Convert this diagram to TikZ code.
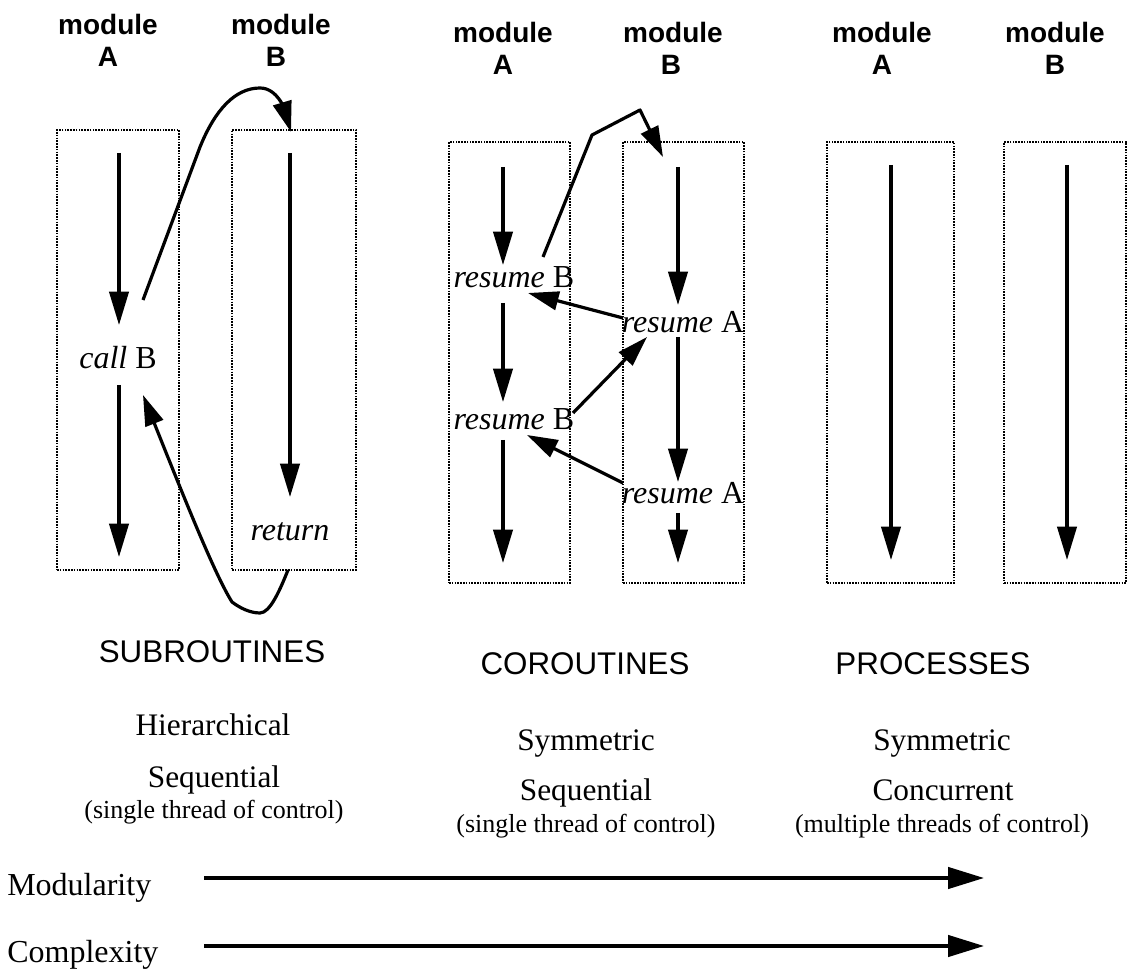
\documentclass[tikz,border=0pt]{standalone}
\usepackage{fontspec}
\setmainfont{Liberation Serif}
\newfontfamily\helv{Liberation Sans}
\usetikzlibrary{arrows.meta}

\begin{document}
\begin{tikzpicture}[x=0.75pt,y=-0.75pt,
  modbox/.style={draw, line width=1.8pt, dash pattern=on 1.2pt off 0.9pt, inner sep=0pt},
  flow/.style={line width=2.3pt, -{Triangle[length=25pt,width=14.5pt]}},
  jump/.style={line width=2.4pt, line join=round, -{Triangle[length=23pt,width=14pt]}},
  axis/.style={line width=2.6pt, -{Triangle[length=27pt,width=16pt]}},
  modlabel/.style={font=\helv\bfseries\fontsize{21pt}{24pt}\selectfont, inner sep=0pt, anchor=base},
  stmt/.style={font=\itshape\fontsize{24pt}{26pt}\selectfont, inner sep=0pt},
  kind/.style={font=\helv\fontsize{23.5pt}{26pt}\selectfont, inner sep=0pt},
  prop/.style={font=\fontsize{23.5pt}{26pt}\selectfont, inner sep=0pt, anchor=base},
  note/.style={font=\fontsize{19.5pt}{22pt}\selectfont, inner sep=0pt, anchor=base},
  axlabel/.style={font=\fontsize{24pt}{26pt}\selectfont, inner sep=0pt, anchor=base west}]

\useasboundingbox (0,0) rectangle (1128,969);

% ---------------- subroutines ----------------
\node[modlabel] (sAm) at (108,35) {module};
\node[modlabel] (sAl) at (108,67) {A};
\node[modlabel] (sBm) at (281,35) {module};
\node[modlabel] (sBl) at (276,67) {B};

\node[modbox, minimum width=91.5pt, minimum height=330pt] (sA) at (118,350) {};
\node[modbox, minimum width=93pt, minimum height=330pt] (sB) at (294,350) {};

\node[stmt] (call) at (118,358) {call \textup{B}};
\node[stmt] (ret) at (290,532) {return};

\coordinate (sA0) at (119,153);
\coordinate (sA1) at (119,325);
\coordinate (sA2) at (119,385);
\coordinate (sA3) at (119,557);
\coordinate (sB0) at (290,153);
\coordinate (sB1) at (290,497);
\draw[flow] (sA0) -- (sA1);
\draw[flow] (sA2) -- (sA3);
\draw[flow] (sB0) -- (sB1);

\coordinate (callout) at (143,300);
\coordinate (callup) at (200,147);
\coordinate (calltop) at (260,88);
\coordinate (callin) at (291,132);
\draw[jump] (callout) -- (callup)
  .. controls (215,110) and (235,88) .. (calltop)
  .. controls (278,88) and (285,112) .. (callin);

\coordinate (retout) at (288,570);
\coordinate (retlow) at (260,613);
\coordinate (retside) at (232,602);
\coordinate (retin) at (143,395);
\draw[jump] (retout) .. controls (280,590) and (270,613) .. (retlow)
  .. controls (250,613) and (240,608) .. (retside)
  .. controls (215,575) and (185,500) .. (retin);

% ---------------- coroutines ----------------
\node[modlabel] (cAm) at (503,43) {module};
\node[modlabel] (cAl) at (503,75) {A};
\node[modlabel] (cBm) at (673,43) {module};
\node[modlabel] (cBl) at (671,75) {B};

\node[modbox, minimum width=90.75pt, minimum height=330.75pt] (cA) at (509.5,362.5) {};
\node[modbox, minimum width=90.75pt, minimum height=330.75pt] (cB) at (683.5,362.5) {};

\node[stmt] (rb1) at (514,277) {resume \textup{B}};
\node[stmt] (rb2) at (514,419) {resume \textup{B}};
\node[stmt] (ra1) at (683,322) {resume \textup{A}};
\node[stmt] (ra2) at (683,493) {resume \textup{A}};

\coordinate (cA0) at (503,167);
\coordinate (cA1) at (503,265);
\coordinate (cA2) at (503,303);
\coordinate (cA3) at (503,402);
\coordinate (cA4) at (503,440);
\coordinate (cA5) at (503,563);
\coordinate (cB0) at (678,167);
\coordinate (cB1) at (678,305);
\coordinate (cB2) at (678,337);
\coordinate (cB3) at (678,482);
\coordinate (cB4) at (678,513);
\coordinate (cB5) at (678,563);
\draw[flow] (cA0) -- (cA1);
\draw[flow] (cA2) -- (cA3);
\draw[flow] (cA4) -- (cA5);
\draw[flow] (cB0) -- (cB1);
\draw[flow] (cB2) -- (cB3);
\draw[flow] (cB4) -- (cB5);

\coordinate (rsOut) at (543,257);
\coordinate (rsK1) at (592,135);
\coordinate (rsK2) at (640,110);
\coordinate (rsIn) at (663,157);
\draw[jump] (rsOut) -- (rsK1) -- (rsK2) -- (rsIn);

\coordinate (a1s) at (623,318);
\coordinate (b1e) at (528,293);
\coordinate (b2s) at (573,413);
\coordinate (a1e) at (647,337);
\coordinate (a2s) at (623,483);
\coordinate (b2e) at (527,435);
\draw[jump] (a1s) -- (b1e);
\draw[jump] (b2s) -- (a1e);
\draw[jump] (a2s) -- (b2e);

% ---------------- processes ----------------
\node[modlabel] (pAm) at (882,43) {module};
\node[modlabel] (pAl) at (882,75) {A};
\node[modlabel] (pBm) at (1055,43) {module};
\node[modlabel] (pBl) at (1055,75) {B};

\node[modbox, minimum width=95.25pt, minimum height=330.75pt] (pA) at (890.5,362.5) {};
\node[modbox, minimum width=91.5pt, minimum height=330.75pt] (pB) at (1065,362.5) {};

\coordinate (pA0) at (891,165);
\coordinate (pA1) at (891,560);
\coordinate (pB0) at (1067,165);
\coordinate (pB1) at (1067,560);
\draw[flow] (pA0) -- (pA1);
\draw[flow] (pB0) -- (pB1);

% ---------------- captions ----------------
\node[kind] (ksub) at (212,652) {SUBROUTINES};
\node[kind] (kcor) at (585,664) {COROUTINES};
\node[kind] (kpro) at (933,664) {PROCESSES};

\node[prop] (s1) at (213,735) {Hierarchical};
\node[prop] (s2) at (214,787) {Sequential};
\node[note] (s3) at (214,818) {(single thread of control)};

\node[prop] (c1) at (586,750) {Symmetric};
\node[prop] (c2) at (586,800) {Sequential};
\node[note] (c3) at (586,832) {(single thread of control)};

\node[prop] (p1) at (942,750) {Symmetric};
\node[prop] (p2) at (943,800) {Concurrent};
\node[note] (p3) at (942,832) {(multiple threads of control)};

% ---------------- scales ----------------
\node[axlabel] (mod) at (7,895) {Modularity};
\node[axlabel] (cpx) at (7,962) {Complexity};
\coordinate (modL) at (204,878);
\coordinate (modR) at (984,878);
\coordinate (cpxL) at (204,946);
\coordinate (cpxR) at (984,946);
\draw[axis] (modL) -- (modR);
\draw[axis] (cpxL) -- (cpxR);

\end{tikzpicture}
\end{document}
